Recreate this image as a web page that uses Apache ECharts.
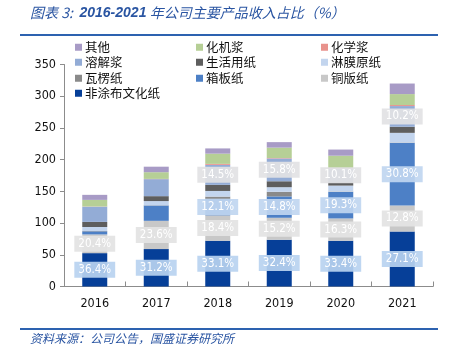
<!DOCTYPE html>
<html>
<head>
<meta charset="utf-8">
<script src="https://cdn.jsdelivr.net/npm/echarts@6/dist/echarts.min.js"></script>
<style>
  html, body { margin: 0; padding: 0; background: #fff; }
  #chart { width: 454px; height: 349px; }
</style>
</head>
<body>
<div id="chart"></div>
<script>
// Sun Paper revenue by product, 2016-2021 (total revenue, 亿元, and share of each product, %)
const years = ['2016', '2017', '2018', '2019', '2020', '2021'];
const totals = [144.5, 188.9, 217.7, 227.6, 215.9, 320.0];
const yTicks = [0, 50, 100, 150, 200, 250, 300, 350];

// shares (%) per product, stacked bottom to top
const shareUncoated = [36.4, 31.2, 33.1, 32.4, 33.4, 27.1]; // 非涂布文化纸
const shareCoated = [20.4, 23.6, 18.4, 15.2, 16.3, 12.8];   // 铜版纸
const shareBoard = [3.4, 12.8, 12.1, 14.8, 19.3, 30.8];     // 箱板纸
const shareCorrugated = [0.4, 0.2, 1.5, 3.2, 0.3, 0.2];     // 瓦楞纸
const shareLaminated = [4.3, 3.5, 4.1, 3.2, 4.4, 4.8];      // 淋膜原纸
const shareTissue = [5.6, 4.1, 4.4, 4.1, 2.4, 3.0];         // 生活用纸
const shareDissolving = [16.6, 14.2, 14.5, 15.8, 10.1, 10.2]; // 溶解浆
const shareChemical = [0.2, 0.2, 0.7, 0.3, 0.3, 0.5];       // 化学浆
const shareMechanical = [7.2, 5.6, 7.4, 7.2, 9.0, 5.4];     // 化机浆
const shareOther = [5.5, 4.6, 3.8, 3.8, 4.5, 5.2];          // 其他

// which years carry a percentage label, per product
const labelAll = [true, true, true, true, true, true];
const labelFrom2018 = [false, false, true, true, true, true];
const labelNone = [false, false, false, false, false, false];

const numFont = "Tahoma, 'DejaVu Sans Condensed', 'Liberation Sans', sans-serif";
const cjkFont = "'Noto Sans CJK SC', sans-serif";

const products = [
  { name: '非涂布文化纸', share: shareUncoated, color: '#063f98', labels: labelAll, box: 'rgba(184,210,240,0.92)' },
  { name: '铜版纸', share: shareCoated, color: '#c8c8c8', labels: labelAll, box: 'rgba(228,228,228,0.95)' },
  { name: '箱板纸', share: shareBoard, color: '#4d80c6', labels: labelFrom2018, box: 'rgba(192,214,240,0.92)' },
  { name: '瓦楞纸', share: shareCorrugated, color: '#8a8a8a', labels: labelNone },
  { name: '淋膜原纸', share: shareLaminated, color: '#c3d5ee', labels: labelNone },
  { name: '生活用纸', share: shareTissue, color: '#5e5e5e', labels: labelNone },
  { name: '溶解浆', share: shareDissolving, color: '#93acd6', labels: labelFrom2018, box: 'rgba(226,226,228,0.92)' },
  { name: '化学浆', share: shareChemical, color: '#e8928c', labels: labelNone },
  { name: '化机浆', share: shareMechanical, color: '#b6cf96', labels: labelNone },
  { name: '其他', share: shareOther, color: '#a89bc6', labels: labelNone }
];

const series = products.map(p => ({
  name: p.name,
  type: 'bar',
  stack: 'revenue',
  barWidth: 25,
  itemStyle: { color: p.color },
  data: years.map((y, i) => ({
    value: totals[i] * p.share[i] / 100,
    label: {
      show: p.labels[i],
      position: 'inside',
      formatter: p.share[i].toFixed(1) + '%',
      color: '#ffffff',
      fontFamily: numFont,
      fontSize: 11.5,
      lineHeight: 12,
      backgroundColor: p.box || 'transparent',
      padding: [2, 4, 2, 4]
    }
  }))
}));

// legend laid out in three columns, Excel style (top of stack first)
const legendSlots = [
  ['其他', 75, 41], ['化机浆', 196, 41], ['化学浆', 321, 41],
  ['溶解浆', 75, 56], ['生活用纸', 196, 56], ['淋膜原纸', 321, 56],
  ['瓦楞纸', 75, 72], ['箱板纸', 196, 72], ['铜版纸', 321, 72],
  ['非涂布文化纸', 75, 87]
];
const legends = legendSlots.map(([name, x, y]) => ({
  data: [name],
  left: x,
  top: y,
  padding: 0,
  itemWidth: 7,
  itemHeight: 7,
  itemGap: 0,
  icon: 'rect',
  selectedMode: false,
  textStyle: { fontFamily: cjkFont, fontSize: 12.5, color: '#111', padding: [0, 0, 0, -2] }
}));

const chart = echarts.init(document.getElementById('chart'), null, { renderer: 'canvas' });
chart.setOption({
  animation: false,
  backgroundColor: '#ffffff',
  color: products.map(p => p.color),
  legend: legends,
  grid: { left: 64, right: 21, top: 64.5, bottom: 62.5, containLabel: false },
  xAxis: {
    type: 'category',
    data: years,
    axisLine: { lineStyle: { color: '#8c8c8c', width: 1 } },
    axisTick: { show: true, inside: true, length: 5, alignWithLabel: false, lineStyle: { color: '#8c8c8c' } },
    axisLabel: { color: '#111', fontFamily: numFont, fontSize: 12.5, margin: 11 }
  },
  yAxis: {
    type: 'value',
    min: yTicks[0],
    max: yTicks[yTicks.length - 1],
    interval: yTicks[1] - yTicks[0],
    splitLine: { show: false },
    axisLine: { show: true, lineStyle: { color: '#8c8c8c', width: 1 } },
    axisTick: { show: true, length: 4, lineStyle: { color: '#8c8c8c' } },
    axisLabel: { color: '#111', fontFamily: numFont, fontSize: 12.5, margin: 8 }
  },
  series: series,
  graphic: [
    {
      type: 'text', left: 30, top: 6,
      style: {
        text: '{a|图表 3:}  {b|2016-2021} {a|年公司主要产品收入占比（%）}',
        rich: {
          a: { fill: '#2a55a2', font: "italic 14px 'Noto Sans CJK SC', sans-serif" },
          b: { fill: '#2a55a2', font: "italic bold 14px 'Liberation Sans', sans-serif" }
        }
      }
    },
    { type: 'line', shape: { x1: 20, y1: 35, x2: 438, y2: 35 }, style: { stroke: '#2d62b0', lineWidth: 2 } },
    { type: 'line', shape: { x1: 20, y1: 329, x2: 438, y2: 329 }, style: { stroke: '#2d62b0', lineWidth: 2 } },
    {
      type: 'text', left: 30, top: 332,
      style: {
        text: '资料来源：公司公告，国盛证券研究所',
        fill: '#2a55a2',
        font: "italic 12px 'Noto Sans CJK SC', sans-serif"
      }
    }
  ]
});
</script>
</body>
</html>
